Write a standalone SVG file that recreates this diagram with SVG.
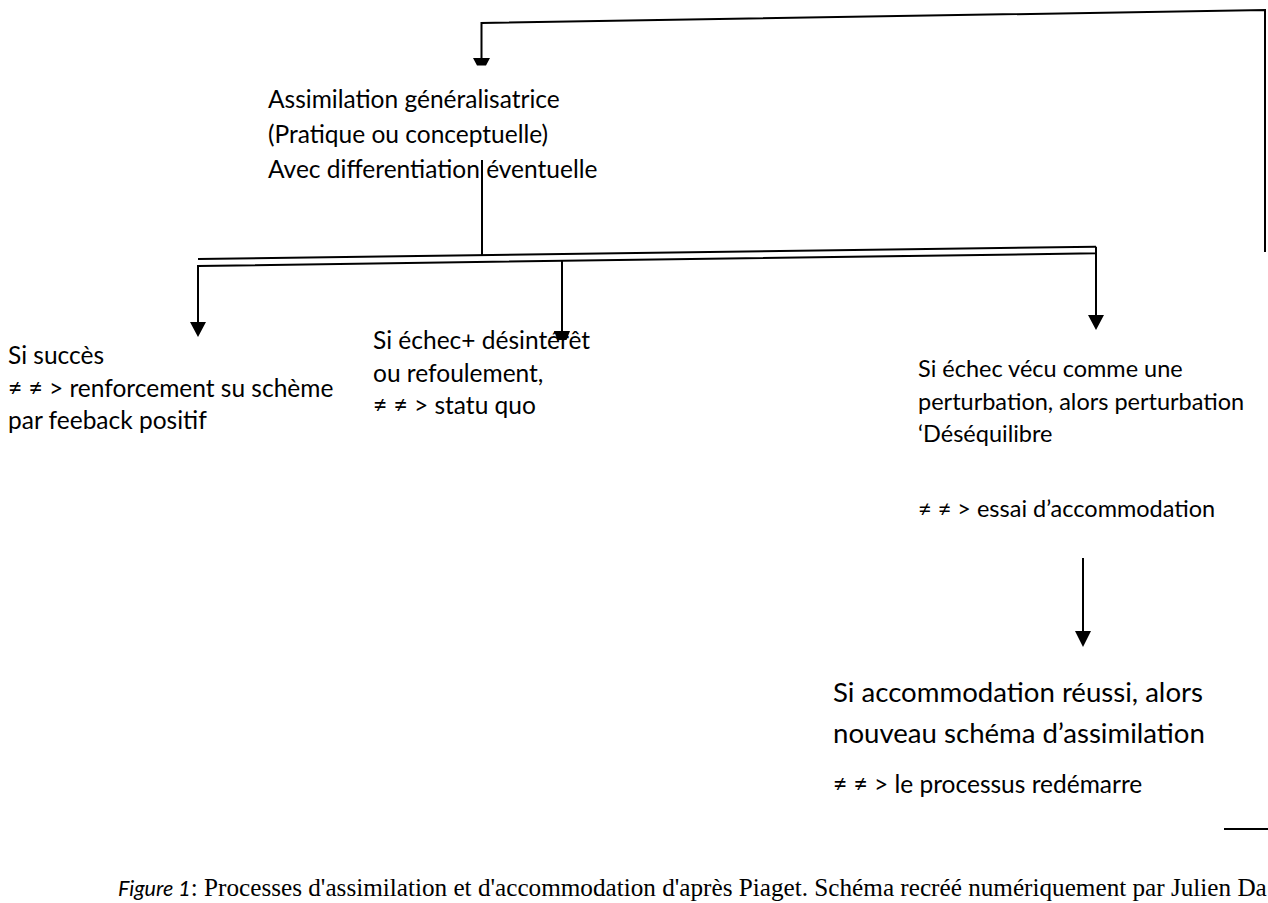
<svg xmlns="http://www.w3.org/2000/svg" width="1268" height="903" viewBox="0 0 1268 903">
<style>
.t{font-family:Lato,"Open Sans","Liberation Sans",sans-serif;font-size:24.5px;fill:#000}
.big{font-size:27.6px}
.sm{font-size:23.5px}
.cap{font-family:"Liberation Serif","Times New Roman",serif;font-size:25.2px;fill:#000}
.capi{font-family:Lato,"Liberation Sans",sans-serif;font-style:italic;font-size:21.5px}
.ln{stroke:#000;stroke-width:2;fill:none}
.ah{fill:#000;stroke:none}
</style>
<rect width="1268" height="903" fill="#fff"/>
<g id="connectors">
  <polyline class="ln" points="1265,252 1265,10 481.5,23 481.5,58" stroke-width="2.5"/>
  <polygon class="ah" points="473,58 490,58 486,65.5 477,65.5"/>
  <line class="ln" x1="482" y1="160" x2="482" y2="255"/>
  <line class="ln" x1="198" y1="259" x2="1096" y2="246.7"/>
  <polyline class="ln" points="198,322 198,266 1096,253.3 1096,246.7"/>
  <polygon class="ah" points="190,322 206,322 198,337"/>
  <line class="ln" x1="562" y1="261" x2="562" y2="331"/>
  <polygon class="ah" points="554,331 570,331 566.5,340 557.5,340"/>
  <line class="ln" x1="1096" y1="253" x2="1096" y2="315"/>
  <polygon class="ah" points="1088,315 1104,315 1096,330"/>
  <line class="ln" x1="1083" y1="558" x2="1083" y2="632"/>
  <polygon class="ah" points="1075,631 1091,631 1083,647"/>
  <line class="ln" x1="1224" y1="829" x2="1268" y2="829"/>
</g>
<g id="n-assimilation">
  <text class="t" x="268" y="108">Assimilation généralisatrice</text>
  <text class="t" x="268" y="143">(Pratique ou conceptuelle)</text>
  <text class="t" x="268" y="178">Avec differentiation éventuelle</text>
</g>
<g id="n-succes">
  <text class="t" x="8" y="364">Si succès</text>
  <text class="t" x="8" y="397">≠ ≠ &gt; renforcement su schème</text>
  <text class="t" x="8" y="429">par feeback positif</text>
</g>
<g id="n-echec">
  <text class="t" x="373" y="349">Si échec+ désintérêt</text>
  <text class="t" x="373" y="382">ou refoulement,</text>
  <text class="t" x="373" y="414">≠ ≠ &gt; statu quo</text>
</g>
<g id="n-perturbation">
  <text class="t sm" x="918" y="377">Si échec vécu comme une</text>
  <text class="t sm" x="918" y="410">perturbation, alors perturbation</text>
  <text class="t sm" x="918" y="442">‘Déséquilibre</text>
  <text class="t sm" x="918" y="517">≠ ≠ &gt; essai d’accommodation</text>
</g>
<g id="n-accommodation">
  <text class="t big" x="833" y="702">Si accommodation réussi, alors</text>
  <text class="t big" x="833" y="743">nouveau schéma d’assimilation</text>
  <text class="t" x="833" y="793">≠ ≠ &gt; le processus redémarre</text>
</g>
<g id="caption">
  <text class="cap" x="118" y="896"><tspan class="capi">Figure 1</tspan>: Processes d'assimilation et d'accommodation d'après Piaget. Schéma recréé numériquement par Julien Da</text>
</g>
</svg>
